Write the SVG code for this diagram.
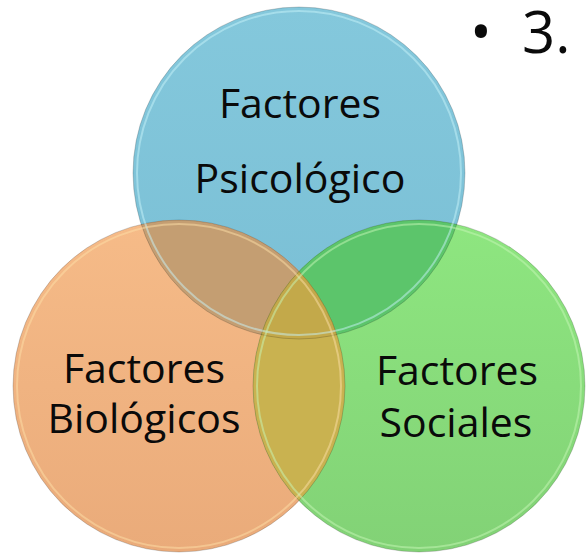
<svg xmlns="http://www.w3.org/2000/svg" width="588" height="554" viewBox="0 0 588 554">
<style>
.lbl{font-family:"Open Sans","Liberation Sans",sans-serif;font-size:41px;font-weight:500;fill:#0a0a0a;text-anchor:middle}
.big{font-family:"Open Sans","Liberation Sans",sans-serif;font-size:58px;fill:#0a0a0a}
.edge{fill:none;stroke:#000;stroke-opacity:0.18;stroke-width:1}
.rim{fill:none;stroke-opacity:0.5;stroke-width:2}
</style>
<defs>
<clipPath id="cb"><circle cx="299" cy="173" r="166"/></clipPath>
<clipPath id="co"><circle cx="179" cy="386" r="166"/></clipPath>
<clipPath id="cg"><circle cx="419" cy="386" r="166"/></clipPath>
<linearGradient id="gb" x1="0" y1="0" x2="0" y2="1"><stop offset="0" stop-color="#84c8dc"/><stop offset="1" stop-color="#7abfd5"/></linearGradient>
<linearGradient id="go" x1="0" y1="0" x2="0" y2="1"><stop offset="0" stop-color="#f6bb88"/><stop offset="1" stop-color="#eaab7a"/></linearGradient>
<linearGradient id="gg" x1="0" y1="0" x2="0" y2="1"><stop offset="0" stop-color="#8ee680"/><stop offset="1" stop-color="#82d276"/></linearGradient>
</defs>
<g id="node-psicologico">
<circle cx="299" cy="173" r="166" fill="url(#gb)"/>
<text class="lbl" x="300" y="118">Factores</text>
<text class="lbl" x="300" y="193">Psicológico</text>
</g>
<g id="node-biologicos">
<circle cx="179" cy="386" r="166" fill="url(#go)"/>
<text class="lbl" x="144" y="383">Factores</text>
<text class="lbl" x="144" y="433">Biológicos</text>
</g>
<g id="node-sociales">
<circle cx="419" cy="386" r="166" fill="url(#gg)"/>
<text class="lbl" x="457" y="385">Factores</text>
<text class="lbl" x="456" y="437">Sociales</text>
</g>
<g id="connectors">
<g clip-path="url(#cb)"><circle cx="179" cy="386" r="166" fill="#c49e72"/></g>
<g clip-path="url(#cb)"><circle cx="419" cy="386" r="166" fill="#5cc56b"/></g>
<g clip-path="url(#co)"><circle cx="419" cy="386" r="166" fill="#c9b250"/></g>
<g clip-path="url(#cb)"><g clip-path="url(#co)"><circle cx="419" cy="386" r="166" fill="#c3a94a"/></g></g>
<circle class="edge" cx="299" cy="173" r="166"/>
<circle class="edge" cx="179" cy="386" r="166"/>
<circle class="edge" cx="419" cy="386" r="166"/>
<circle class="rim" cx="299" cy="173" r="162" stroke="#c8f4fa"/>
<circle class="rim" cx="179" cy="386" r="162" stroke="#fde0a8"/>
<circle class="rim" cx="419" cy="386" r="162" stroke="#c8f8b8"/>
</g>
<text class="big" x="470" y="53">•</text>
<text class="big" x="522" y="53">3.</text>
</svg>
